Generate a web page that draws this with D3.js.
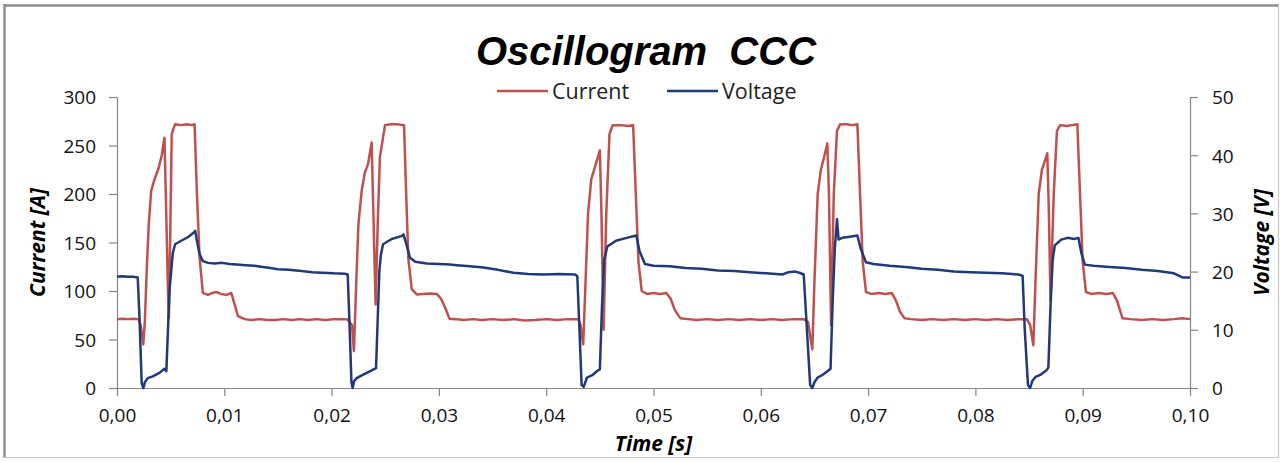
<!DOCTYPE html>
<html>
<head>
<meta charset="utf-8">
<script src="https://cdn.jsdelivr.net/npm/d3@7"></script>
<style>
  body { margin: 0; background: #fff; }
  svg { display: block; }
</style>
</head>
<body>
<div id="vis"></div>
<script>
// Data: [time in ms, value]
let currentPts = [
  [0,71],[0.5,71.5],[1,71],[1.5,71.5],[2.0,71],[2.2,65],[2.45,45],[2.6,70],[2.8,130],[2.96,169],[3.18,203],[3.49,215],[3.86,226],[4.17,240],[4.42,258],[4.55,200],[4.75,100],[4.83,72],[4.95,150],[5.1,262],[5.42,272],[6.0,271],[6.5,272],[7.0,271],[7.23,272],[7.45,200],[7.7,134],[8.0,98],[8.47,96],[8.9,98],[9.25,99],[9.7,97],[10.2,96],[10.65,98],[10.97,86],[11.28,74],[11.9,71],[12.5,70],[13.3,71],[14.0,70],[14.7,70],[15.5,71],[16.3,70],[17.0,71],[17.8,70],[18.6,71],[19.4,70],[20.3,71],[21.0,71],[21.5,70.5],
  [21.9,65],[22.08,38],[22.3,110],[22.5,169],[22.8,203],[23.1,222],[23.4,231],[23.73,253],[23.85,200],[24.1,86],[24.3,170],[24.5,238],[24.98,271],[25.5,272],[26.07,272],[26.75,271],[26.95,200],[27.15,134],[27.47,102],[27.93,96.5],[28.5,97],[29.2,97.5],[29.8,97],[30.2,92],[30.58,83],[30.98,71.5],[31.6,71],[32.3,70],[33.2,71],[34.0,70],[35.0,71],[36.0,70],[37.0,71],[38.0,69.5],[39.0,70],[40.0,71],[41.0,70],[42.0,71],[43.0,71],
  [43.2,65],[43.45,45],[43.7,120],[43.9,180],[44.2,215],[44.6,230],[45.0,245],[45.15,180],[45.35,60],[45.6,180],[45.9,262],[46.2,271],[47.0,271],[47.6,270],[48.1,271],[48.35,200],[48.6,130],[48.9,100],[49.4,97],[50.0,98],[50.6,97],[51.2,98],[51.6,92],[52.0,80],[52.5,72],[53.2,71],[54.0,70],[55.0,71],[56.0,70],[57.0,71],[58.0,70],[59.0,71],[60.0,70],[61.0,71],[62.0,70],[63.0,71],[64.0,71],
  [64.4,68],[64.8,40],[65.0,110],[65.3,200],[65.6,225],[65.9,238],[66.2,252],[66.35,200],[66.55,65],[66.8,200],[67.1,265],[67.4,272],[68.0,272],[68.5,271],[69.0,272],[69.25,200],[69.5,130],[69.8,99],[70.3,97],[71.0,98],[71.6,97],[72.2,98],[72.6,90],[73.0,78],[73.4,72],[74.0,71],[75.0,70],[76.0,71],[77.0,70],[78.0,71],[79.0,70],[80.0,71],[81.0,70],[82.0,71],[83.0,70],[84.0,71],[84.8,71],
  [85.1,65],[85.4,44],[85.6,110],[85.9,200],[86.2,225],[86.5,235],[86.7,242],[86.85,180],[87.0,90],[87.3,200],[87.6,265],[87.9,271],[88.5,270],[89.0,271],[89.5,272],[89.75,200],[90.0,130],[90.3,99],[90.8,97],[91.5,98],[92.2,97],[92.8,98],[93.2,90],[93.7,72],[94.5,71],[95.5,70],[96.5,71],[97.5,70],[98.5,71],[99.3,72],[100,71]
];

let voltagePts = [
  [0,19.1],[0.5,19.2],[1.0,19.1],[1.5,19.1],[1.93,19.0],[2.1,12],[2.3,0.8],[2.46,0],[2.6,1.0],[2.87,1.7],[3.33,2.0],[3.96,2.6],[4.42,3.3],[4.6,2.9],[4.75,10],[4.9,17],[5.05,20.1],[5.2,23.2],[5.42,24.7],[5.98,25.3],[6.6,25.9],[7.17,26.7],[7.29,27.0],[7.5,24.8],[7.7,23.0],[8.0,21.8],[8.5,21.5],[9.1,21.4],[9.8,21.5],[10.5,21.3],[11.2,21.2],[12.0,21.1],[12.8,21.0],[13.6,20.8],[14.3,20.6],[15.0,20.4],[16.0,20.3],[17.2,20.1],[18.2,19.9],[19.1,19.8],[20.2,19.7],[21.2,19.65],[21.5,19.5],
  [21.65,12],[21.85,1],[21.96,0],[22.1,1.2],[22.33,1.7],[22.95,2.3],[23.6,2.9],[24.14,3.4],[24.3,12],[24.45,20.1],[24.6,23],[24.8,24.7],[25.6,25.6],[26.5,26.1],[26.7,26.4],[27.0,24.5],[27.3,22.4],[27.8,21.7],[28.86,21.4],[30.0,21.3],[31.0,21.2],[31.66,21.1],[32.9,20.9],[34.15,20.7],[35.5,20.3],[36.95,19.8],[38.3,19.6],[39.75,19.5],[41.2,19.6],[42.7,19.5],[42.9,19.2],
  [43.1,10],[43.3,0.5],[43.5,0.2],[43.8,1.8],[44.3,2.2],[44.8,3.0],[45.0,3.2],[45.2,14],[45.4,22],[45.7,24.3],[46.5,25.3],[47.5,25.8],[48.4,26.2],[48.7,23.5],[49.2,21.3],[50.0,21.0],[51.5,20.9],[53.0,20.6],[54.5,20.5],[56.0,20.2],[57.5,20.1],[59.0,19.9],[60.5,19.7],[62.0,19.5],[62.6,19.9],[63.2,20.0],[63.6,19.8],[64.0,19.5],[64.3,10],[64.6,0.5],[64.8,0],
  [65.0,1.0],[65.3,1.8],[65.8,2.3],[66.3,3.0],[66.5,3.3],[66.7,15],[66.9,24],[67.1,29],[67.25,25.5],[67.6,25.8],[68.3,26.0],[69.0,26.2],[69.3,24],[69.8,21.6],[70.5,21.3],[72.0,21.0],[73.5,20.8],[75.0,20.5],[76.5,20.3],[78.0,20.0],[79.5,19.9],[81.0,19.8],[82.5,19.7],[84.0,19.5],[84.4,19.3],[84.6,10],[84.9,0.5],[85.1,0],
  [85.3,1.2],[85.6,1.9],[86.1,2.3],[86.6,3.0],[86.8,3.5],[87.0,14],[87.2,22],[87.4,24.5],[88.0,25.5],[88.6,25.8],[89.2,25.6],[89.6,25.8],[89.9,23],[90.2,21.2],[91.0,21.0],[92.5,20.8],[94.0,20.6],[95.5,20.3],[97.0,20.1],[98.5,19.7],[99.3,19.0],[100,19.0]
];

let seriesNames = ['Current', 'Voltage'];
let seriesColors = ['#c0504d', '#1f3a7a'];
let timeTicks = [0, 10, 20, 30, 40, 50, 60, 70, 80, 90, 100];
let timeTickLabels = ['0,00', '0,01', '0,02', '0,03', '0,04', '0,05', '0,06', '0,07', '0,08', '0,09', '0,10'];
let currentTicks = [0, 50, 100, 150, 200, 250, 300];
let voltageTicks = [0, 10, 20, 30, 40, 50];

let width = 1285,
    height = 462;

let margin = { top: 97, bottom: 74, left: 117, right: 95 };

let svg = d3.select('#vis')
  .append('svg')
  .attr('width', width)
  .attr('height', height);

// chart frame
svg.append('rect')
  .attr('x', 0).attr('y', 0).attr('width', width).attr('height', height)
  .attr('fill', '#fff');
svg.append('line').attr('x1', 4).attr('y1', 5.5).attr('x2', 1279).attr('y2', 5.5)
  .attr('stroke', '#8c8c8c').attr('stroke-width', 2.5);
svg.append('line').attr('x1', 4.5).attr('y1', 4).attr('x2', 4.5).attr('y2', 458)
  .attr('stroke', '#8c8c8c').attr('stroke-width', 2.5);
svg.append('line').attr('x1', 1278.5).attr('y1', 5).attr('x2', 1278.5).attr('y2', 457.5)
  .attr('stroke', '#c8c8c8').attr('stroke-width', 1.2);
svg.append('line').attr('x1', 4).attr('y1', 457.5).attr('x2', 1279).attr('y2', 457.5)
  .attr('stroke', '#c8c8c8').attr('stroke-width', 1.2);

// scales
let xScale = d3.scaleLinear()
  .domain([0, 100])
  .range([margin.left, width - margin.right]);

let yLeft = d3.scaleLinear()
  .domain([0, 300])
  .range([height - margin.bottom, margin.top]);

let yRight = d3.scaleLinear()
  .domain([0, 50])
  .range([height - margin.bottom, margin.top]);

// axes
let axisColor = '#868686';
let tickFont = "'Open Sans', sans-serif";

let xAxis = svg.append('g')
  .attr('transform', `translate(0, ${height - margin.bottom})`)
  .call(d3.axisBottom(xScale)
    .tickValues(timeTicks)
    .tickFormat((d, i) => timeTickLabels[i])
    .tickSize(8).tickSizeOuter(0).tickPadding(13));

let leftAxis = svg.append('g')
  .attr('transform', `translate(${margin.left}, 0)`)
  .call(d3.axisLeft(yLeft)
    .tickValues(currentTicks)
    .tickSize(8).tickSizeOuter(0).tickPadding(13));

let rightAxis = svg.append('g')
  .attr('transform', `translate(${width - margin.right}, 0)`)
  .call(d3.axisRight(yRight)
    .tickValues(voltageTicks)
    .tickSize(8).tickSizeOuter(0).tickPadding(14));

[xAxis, leftAxis, rightAxis].forEach(g => {
  g.selectAll('path, line').attr('stroke', axisColor).attr('stroke-width', 1.2);
  g.selectAll('text')
    .style('font-family', tickFont)
    .style('font-size', '19px')
    .attr('fill', '#111');
});
leftAxis.selectAll('text').attr('dy', '0.36em');
rightAxis.selectAll('text').attr('dy', '0.36em');

// lines
let line = d3.line()
  .x(d => xScale(d[0]));

svg.append('path')
  .datum(currentPts)
  .attr('fill', 'none')
  .attr('stroke', seriesColors[0])
  .attr('stroke-width', 2.5)
  .attr('stroke-linejoin', 'round')
  .attr('d', line.y(d => yLeft(d[1])));

svg.append('path')
  .datum(voltagePts)
  .attr('fill', 'none')
  .attr('stroke', seriesColors[1])
  .attr('stroke-width', 2.5)
  .attr('stroke-linejoin', 'round')
  .attr('d', line.y(d => yRight(d[1])));

// title
svg.append('text')
  .attr('x', 646)
  .attr('y', 65)
  .text('Oscillogram  CCC')
  .style('text-anchor', 'middle')
  .style('font-family', "'Liberation Sans', Arial, sans-serif")
  .style('font-weight', 'bold')
  .style('font-style', 'italic')
  .style('font-size', '40px')
  .style('white-space', 'pre');

// legend
let legendX = [497, 667];
seriesNames.forEach((name, i) => {
  svg.append('line')
    .attr('x1', legendX[i]).attr('x2', legendX[i] + 51)
    .attr('y1', 91).attr('y2', 91)
    .attr('stroke', seriesColors[i]).attr('stroke-width', 2.5);
  svg.append('text')
    .attr('x', legendX[i] + 55)
    .attr('y', 99)
    .text(name)
    .style('font-family', tickFont)
    .style('font-size', '21.5px')
    .attr('fill', '#222');
});

// axis titles
let titleStyle = sel => sel
  .style('font-family', tickFont)
  .style('font-weight', 'bold')
  .style('font-style', 'italic')
  .style('font-size', '21px')
  .style('text-anchor', 'middle');

svg.append('text')
  .attr('transform', `translate(45, ${(margin.top + height - margin.bottom) / 2}) rotate(-90)`)
  .text('Current [A]')
  .call(titleStyle);

svg.append('text')
  .attr('transform', `translate(1269, ${(margin.top + height - margin.bottom) / 2}) rotate(-90)`)
  .text('Voltage [V]')
  .call(titleStyle);

svg.append('text')
  .attr('x', (margin.left + width - margin.right) / 2)
  .attr('y', 451)
  .text('Time [s]')
  .call(titleStyle);
</script>
</body>
</html>
